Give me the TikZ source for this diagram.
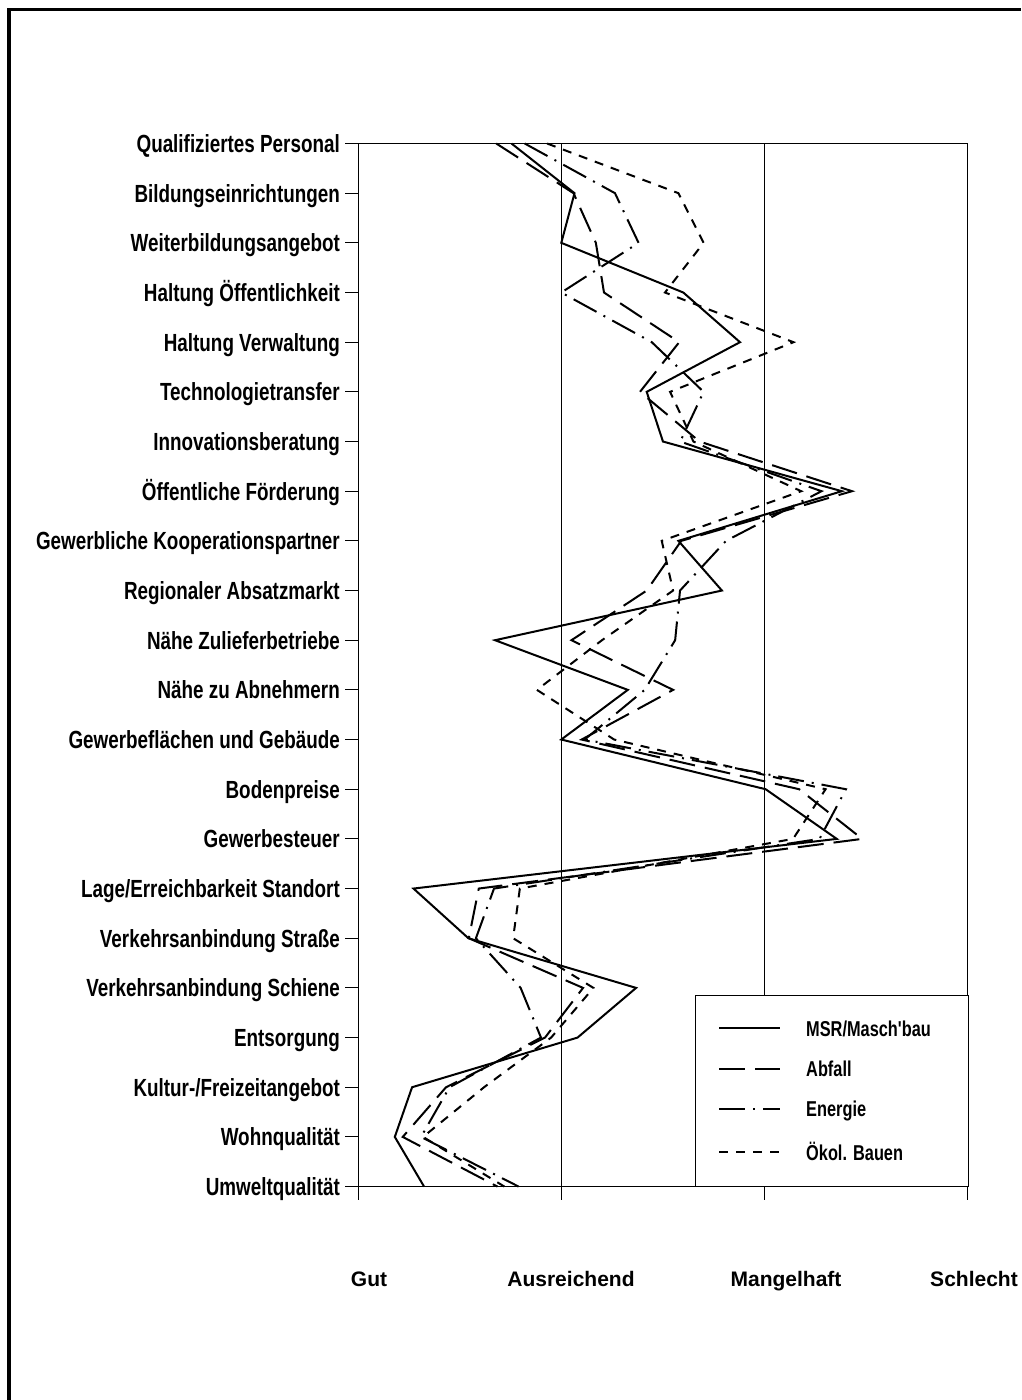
\documentclass[tikz,border=0pt]{standalone}
\usepackage{fontspec}
\setmainfont{Liberation Sans}
\newfontfamily\narrowfont[FakeStretch=0.76]{Liberation Sans}
\usetikzlibrary{positioning}
\def\rowGap{49.67}
\def\colGap{203.3}
\def\plotLeft{358}
\def\plotTop{143.5}
\def\plotBottom{1186.5}

\tikzset{
  rowlabel/.style={anchor=base east, inner sep=0pt, font=\narrowfont\bfseries\fontsize{24.8}{29}\selectfont},
  gradelabel/.style={anchor=base, inner sep=0pt, font=\bfseries\fontsize{21}{25}\selectfont},
  keylabel/.style={anchor=base west, inner sep=0pt, font=\narrowfont\bfseries\fontsize{21.5}{25}\selectfont},
  msr/.style={line width=2pt},
  abfall/.style={line width=2pt, dash pattern=on 26pt off 10pt},
  energie/.style={line width=2pt, dash pattern=on 26pt off 8pt on 2pt off 8pt},
  oekol/.style={line width=2pt, dash pattern=on 9pt off 8pt},
}

\begin{document}
\begin{tikzpicture}[x=1pt, y=-1pt]
  \useasboundingbox (0,0) rectangle (1021,1400);

  % Frame
  \draw[line width=3.7pt] (9.2,1400) -- (9.2,9.5) -- (1021,9.5);

  % Row labels and ticks
  \foreach \name [count=\i from 0] in {{Qualifiziertes Personal}, {Bildungseinrichtungen}, {Weiterbildungsangebot},
      {Haltung Öffentlichkeit}, {Haltung Verwaltung}, {Technologietransfer}, {Innovationsberatung},
      {Öffentliche Förderung}, {Gewerbliche Kooperationspartner}, {Regionaler Absatzmarkt},
      {Nähe Zulieferbetriebe}, {Nähe zu Abnehmern}, {Gewerbeflächen und Gebäude}, {Bodenpreise},
      {Gewerbesteuer}, {Lage/Erreichbarkeit Standort}, {Verkehrsanbindung Straße},
      {Verkehrsanbindung Schiene}, {Entsorgung}, {Kultur-/Freizeitangebot}, {Wohnqualität},
      {Umweltqualität}} {
    \pgfmathsetmacro{\rowY}{\plotTop + \i * \rowGap}
    \draw[line width=1pt] (345, \rowY) -- (\plotLeft, \rowY);
    \node[rowlabel] (row\i) at (340, \rowY + 9) {\name};
  }

  % Grid and axes
  \draw[line width=1pt] (345, \plotTop) -- (968, \plotTop);
  \draw[line width=1pt] (345, \plotBottom) -- (968, \plotBottom);
  \foreach \j in {0,...,3} {
    \pgfmathsetmacro{\colX}{\plotLeft + \j * \colGap}
    \draw[line width=1pt] (\colX, \plotTop) -- (\colX, 1200);
  }

  % Grade labels
  \node[gradelabel] (gut) at (369, 1286) {Gut};
  \node[gradelabel] (ausreichend) at (571, 1286) {Ausreichend};
  \node[gradelabel] (mangelhaft) at (786, 1286) {Mangelhaft};
  \node[gradelabel] (schlecht) at (974, 1286) {Schlecht};

  % Profiles
  \begin{scope}[shift={(\plotLeft,\plotTop)}, x=\colGap pt, y=-\rowGap pt]
    \draw[msr] plot coordinates {(0.755,0) (1.065,1) (1.00,2) (1.60,3) (1.879,4) (1.42,5) (1.50,6)
      (2.38,7) (1.576,8) (1.79,9) (0.674,10) (1.327,11) (1.00,12) (2.005,13) (2.355,14)
      (0.273,15) (0.543,16) (1.368,17) (1.08,18) (0.266,19) (0.181,20) (0.325,21)};
    \draw[abfall] plot coordinates {(0.68,0) (1.06,1) (1.17,2) (1.21,3) (1.58,4) (1.387,5) (1.68,6)
      (2.43,7) (1.59,8) (1.42,9) (1.05,10) (1.55,11) (1.10,12) (2.17,13) (2.48,14)
      (0.594,15) (0.545,16) (1.107,17) (0.92,18) (0.433,19) (0.22,20) (0.686,21)};
    \draw[energie] plot coordinates {(0.82,0) (1.264,1) (1.38,2) (1.00,3) (1.445,4) (1.70,5) (1.585,6)
      (2.28,7) (1.81,8) (1.584,9) (1.56,10) (1.41,11) (1.115,12) (2.40,13) (2.27,14)
      (0.669,15) (0.58,16) (0.80,17) (0.90,18) (0.45,19) (0.31,20) (0.79,21)};
    \draw[oekol] plot coordinates {(0.93,0) (1.576,1) (1.70,2) (1.51,3) (2.142,4) (1.535,5) (1.65,6)
      (2.18,7) (1.494,8) (1.55,9) (1.20,10) (0.88,11) (1.26,12) (2.30,13) (2.14,14)
      (0.796,15) (0.763,16) (1.158,17) (0.95,18) (0.62,19) (0.32,20) (0.72,21)};
  \end{scope}

  % Legend
  \draw[line width=1pt, fill=white] (695,995) rectangle (968,\plotBottom);
  \draw[msr] (719,1028.3) -- (780,1028.3);
  \node[keylabel] (keymsr) at (806,1036) {MSR/Masch'bau};
  \draw[abfall] (719,1069) -- (780,1069);
  \node[keylabel] (keyabfall) at (806,1076.7) {Abfall};
  \draw[energie] (719,1109) -- (780,1109);
  \node[keylabel] (keyenergie) at (806,1116.7) {Energie};
  \draw[oekol] (719,1152.3) -- (780,1152.3);
  \node[keylabel] (keyoekol) at (806,1160) {Ökol. Bauen};
\end{tikzpicture}
\end{document}
